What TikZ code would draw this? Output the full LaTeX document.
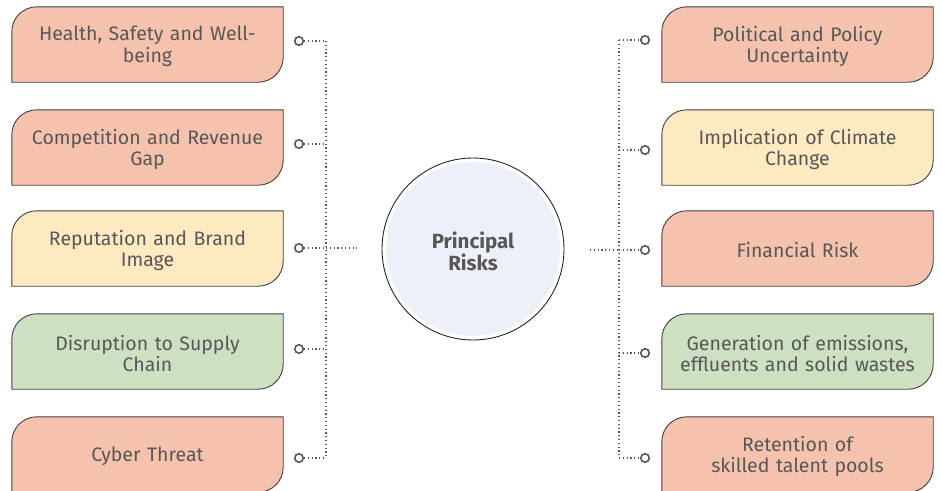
\documentclass[tikz,border=0pt]{standalone}
\usepackage{fontspec}
\setmainfont{Fira Sans}
\definecolor{salmon}{HTML}{F5C3AD}
\definecolor{sand}{HTML}{FEEAC1}
\definecolor{sage}{HTML}{CEE0C2}
\definecolor{hub}{HTML}{ECF0F9}
\definecolor{ink}{HTML}{575757}
\newcommand{\riskshape}[2]{%
  \draw[line width=0.9pt, draw=black!75, fill=#2] (#1.south west)
    -- ([yshift=-25pt]#1.north west) arc[start angle=180, end angle=90, radius=25pt]
    -- (#1.north east)
    -- ([yshift=25pt]#1.south east) arc[start angle=0, end angle=-90, radius=25pt]
    -- cycle;}
\begin{document}
\begin{tikzpicture}[x=1pt, y=-1pt,
  risk/.style={minimum width=271pt, minimum height=75pt, inner sep=0pt, text width=260pt, align=center, text=ink, font=\fontsize{19.5}{21.5}\selectfont},
  label/.style={risk, yshift=-2pt},
  dot/.style={circle, draw=ink, line width=1.6pt, fill=white, minimum size=8.5pt, inner sep=0pt},
  link/.style={dash pattern=on 1.2pt off 2.6pt, line width=1.2pt, ink}]
 \useasboundingbox (0,0) rectangle (942,490);
 % boxes on the left
 \node[risk] (l1) at (147.5,44.5) {};
 \node[risk] (l2) at (147.5,147.5) {};
 \node[risk] (l3) at (147.5,248.5) {};
 \node[risk] (l4) at (147.5,351.5) {};
 \node[risk] (l5) at (147.5,454.5) {};
 \riskshape{l1}{salmon}
 \riskshape{l2}{salmon}
 \riskshape{l3}{sand}
 \riskshape{l4}{sage}
 \riskshape{l5}{salmon}
 \node[label] at (l1) {Health, Safety and Well-\\being};
 \node[label] at (l2) {Competition and Revenue\\Gap};
 \node[label] at (l3) {Reputation and Brand\\Image};
 \node[label] at (l4) {Disruption to Supply\\Chain};
 \node[label] at (l5) {Cyber Threat};
 % boxes on the right
 \node[risk] (r1) at (797.5,44.5) {};
 \node[risk] (r2) at (797.5,147.5) {};
 \node[risk] (r3) at (797.5,248.5) {};
 \node[risk] (r4) at (797.5,351.5) {};
 \node[risk] (r5) at (797.5,454.5) {};
 \riskshape{r1}{salmon}
 \riskshape{r2}{sand}
 \riskshape{r3}{salmon}
 \riskshape{r4}{sage}
 \riskshape{r5}{salmon}
 \node[label] at (r1) {Political and Policy\\Uncertainty};
 \node[label] at (r2) {Implication of Climate\\Change};
 \node[label] at (r3) {Financial Risk};
 \node[label] at (r4) {Generation of emissions,\\effluents and solid wastes};
 \node[label] at (r5) {Retention of\\skilled talent pools};
 % centre
 \fill[hub] (473,249) circle (87);
 \draw[line width=0.9pt, black!85] (473,249) circle (91);
 \node[text=ink, font=\fontsize{20.5}{22}\selectfont\bfseries, align=center] (pr) at (473,251) {Principal\\Risks};
 % left connectors
 \coordinate (lj1) at (326,41);
 \coordinate (lj2) at (326,144);
 \coordinate (lj3) at (326,248);
 \coordinate (lj4) at (326,349);
 \coordinate (lj5) at (326,458);
 \coordinate (lc) at (357,248);
 \draw[link] (lj1) -- (lj5);
 \draw[link] (lj3) -- (lc);
 \foreach \i/\y in {1/41, 2/144, 3/248, 4/349, 5/458} {
   \node[dot] (ld\i) at (299,\y) {};
   \draw[link] (ld\i) -- (lj\i);
 }
 % right connectors
 \coordinate (rj1) at (619,40);
 \coordinate (rj2) at (619,150);
 \coordinate (rj3) at (619,250);
 \coordinate (rj4) at (619,353);
 \coordinate (rj5) at (619,458);
 \coordinate (rc) at (590,250);
 \draw[link] (rj1) -- (rj5);
 \draw[link] (rc) -- (rj3);
 \foreach \i/\y in {1/40, 2/150, 3/250, 4/353, 5/458} {
   \node[dot] (rd\i) at (645,\y) {};
   \draw[link] (rj\i) -- (rd\i);
 }
\end{tikzpicture}
\end{document}
